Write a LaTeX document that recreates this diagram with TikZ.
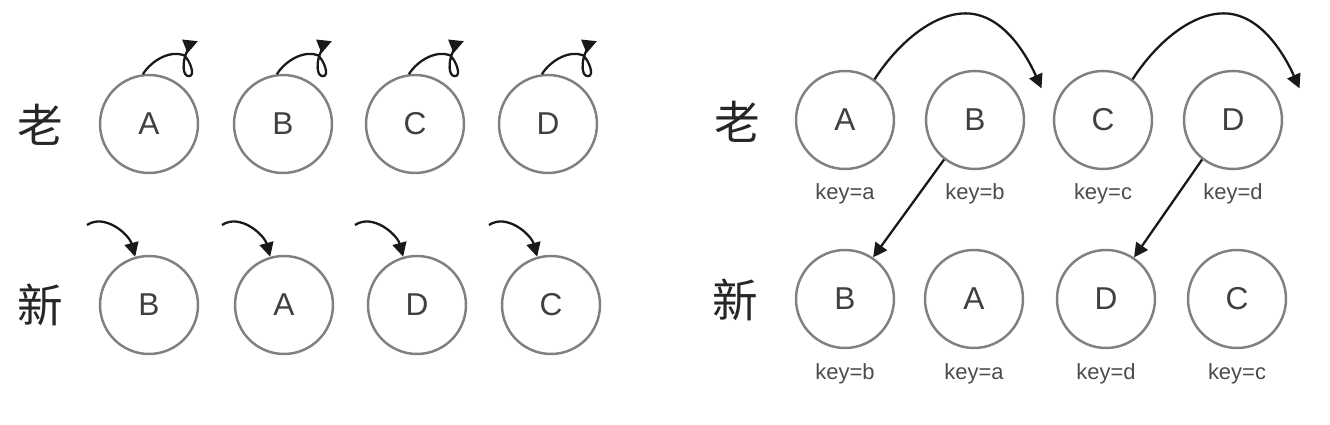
\documentclass[tikz,border=0pt]{standalone}
\usepackage{fontspec}
\setmainfont{Liberation Sans}
\newfontfamily\cjk{Noto Sans CJK SC}
\usetikzlibrary{arrows.meta}

\begin{document}
\begin{tikzpicture}[x=0.02cm,y=-0.02cm,
                item/.style={circle,draw=black!50,line width=1.4pt,minimum size=1.96cm,inner sep=0pt,
                             font=\fontsize{18}{20}\selectfont,text=black!75},
                keytag/.style={font=\fontsize{12.5}{15}\selectfont,text=black!70},
                side/.style={font=\cjk\fontsize{26}{28}\selectfont,text=black!85},
                move/.style={-{Triangle[length=8pt,width=8pt]},line width=1.3pt,draw=black!90}
            ]
                \useasboundingbox (0,0) rectangle (1330,425);

                \node[side] (lold) at (40,125) {老};
                \node[side] (lnew) at (40,305) {新};
                \foreach \x/\t [count=\i] in {149/A,283/B,415/C,548/D}
                    \node[item] (lold\i) at (\x,124) {\t};
                \foreach \x/\t [count=\i] in {149/B,284/A,417/D,551/C}{
                    \node[item] (lnew\i) at (\x,305) {\t};
                    \coordinate (lst\i) at (\x-62,225);
                }
                \foreach \i in {1,...,4}{
                    \draw[move] (lold\i.97) .. controls +(9,-14) and +(-14,-5) .. ++(41,-19)
                        .. controls +(6,5) and +(7,0) .. ++(5,21)
                        .. controls +(-7,0) and +(-3,7) .. ++(-3,-22)
                        .. controls +(2,-6) and +(-5,2) .. ++(12,-13);
                    \draw[move] (lst\i) .. controls +(18,-12) and +(-6,-22) .. (lnew\i.106);
                }

                \node[side] (rold) at (737,122) {老};
                \node[side] (rnew) at (735,300) {新};
                \foreach \x/\t/\k [count=\i] in {845/A/a,975/B/b,1103/C/c,1233/D/d}{
                    \node[item] (rold\i) at (\x,120) {\t};
                    \node[keytag] (rkey\i) at (\x,194) {key=\k};
                }
                \foreach \x/\t/\k [count=\i] in {845/B/b,974/A/a,1106/D/d,1237/C/c}{
                    \node[item] (rnew\i) at (\x,299) {\t};
                    \node[keytag] (skey\i) at (\x,374) {key=\k};
                }
                \foreach \i in {1,3}
                    \draw[move] (rold\i.54) .. controls +(26,-40) and +(-30,0) .. ++(91,-66)
                        .. controls +(35,0) and +(-17,-38) .. ++(76,75);
                \draw[move] (rold2.232) -- (rnew1.56);
                \draw[move] (rold4.232) -- (rnew3.56);
            \end{tikzpicture}
\end{document}
